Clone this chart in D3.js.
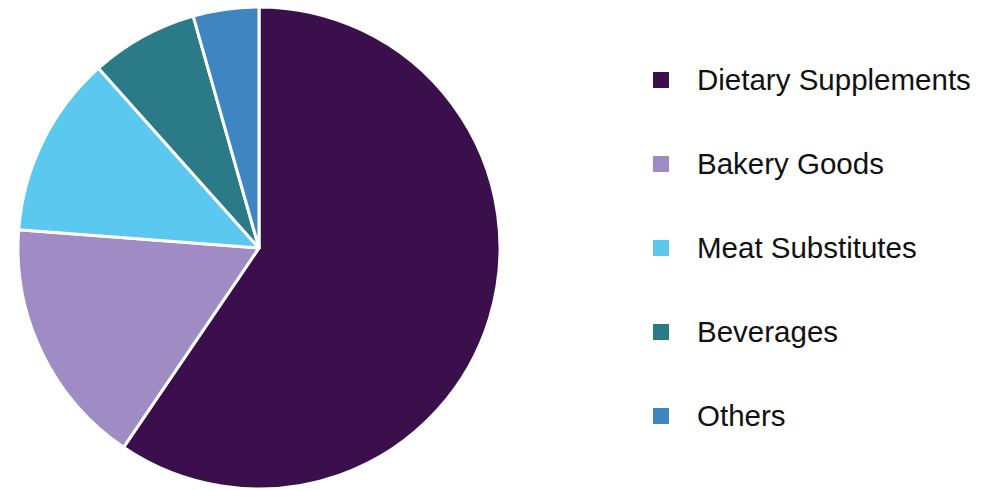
<!DOCTYPE html>
<meta charset="utf-8">
<style>
  body { margin: 0; background: #fff; }
  svg { display: block; }
</style>
<svg width="986" height="490"></svg>
<script src="https://cdn.jsdelivr.net/npm/d3@7/dist/d3.min.js"></script>
<script>

    // segment shares (%)
    var categories = ['Dietary Supplements', 'Bakery Goods', 'Meat Substitutes', 'Beverages', 'Others']
    var shares = [59.5, 16.7, 12.2, 7.2, 4.4]
    var colors = ['#3a0f4c', '#a08cc4', '#5bc8f0', '#2b7a88', '#3f85c2']

    var width = 986
    var height = 490
    var svg = d3.select('svg').attr('width', width).attr('height', height)

    var data = categories.map(function (c, i) { return { name: c, value: shares[i], color: colors[i] } })

    var pie = d3.pie().sort(null).value(function (d) { return d.value })
    var arc = d3.arc().innerRadius(0).outerRadius(241)

    var g = svg.append('g').attr('transform', 'translate(259,248)')
    g.selectAll('path')
        .data(pie(data))
        .enter().append('path')
        .attr('d', arc)
        .attr('fill', function (d) { return d.data.color })
        .attr('stroke', '#fff')
        .attr('stroke-width', 3)
        .attr('stroke-linejoin', 'round')

    // legend
    var y = d3.scaleBand().domain(categories).range([38, 458])
    var legend = svg.append('g').selectAll('g')
        .data(data)
        .enter().append('g')
        .attr('transform', function (d) { return 'translate(653,' + (y(d.name) + y.bandwidth() / 2) + ')' })

    legend.append('rect')
        .attr('x', 0).attr('y', -8)
        .attr('width', 16).attr('height', 16)
        .attr('fill', function (d) { return d.color })

    legend.append('text')
        .attr('x', 44).attr('y', 10)
        .attr('font-family', 'Liberation Sans, Arial, sans-serif')
        .attr('font-size', 29.5)
        .attr('fill', '#111')
        .text(function (d) { return d.name })

</script>
